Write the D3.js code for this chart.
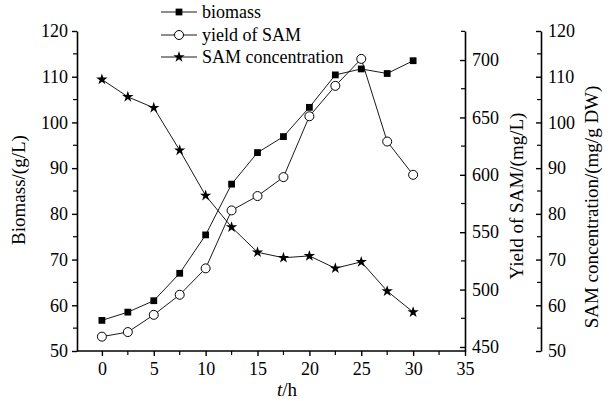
<!DOCTYPE html>
<html>
<head>
<meta charset="utf-8">
<script src="https://cdn.jsdelivr.net/npm/d3@7"></script>
<style>
  body { margin: 0; background: #fff; }
  text { font-family: "Liberation Serif", "Times New Roman", serif; fill: #000; }
</style>
</head>
<body>
<script>
    // Data
    var hours = [0, 2.5, 5, 7.5, 10, 12.5, 15, 17.5, 20, 22.5, 25, 27.5, 30];
    var biomass = [56.7, 58.5, 61.0, 67.0, 75.4, 86.5, 93.4, 96.9, 103.3, 110.4, 111.7, 110.7, 113.5];
    var yieldSAM = [459, 463, 478, 495.5, 518.5, 569, 581.5, 598, 651, 677.5, 701, 629, 600];
    var samConc = [109.4, 105.6, 103.2, 93.9, 84.0, 77.1, 71.6, 70.4, 70.8, 68.1, 69.5, 63.1, 58.5];

    var xTicks = [0, 5, 10, 15, 20, 25, 30, 35];
    var leftTicks = [50, 60, 70, 80, 90, 100, 110, 120];
    var yieldTicks = [450, 500, 550, 600, 650, 700];
    var concTicks = [50, 60, 70, 80, 90, 100, 110, 120];

    var legendNames = ["biomass", "yield of SAM", "SAM concentration"];

    // Width and height
    var w = 610;
    var h = 401;

    var plot = {left: 77, right: 465, top: 31, bottom: 351};
    var axis3 = 541;
    var serif = "'Liberation Serif', 'Times New Roman', serif";

    var svg = d3.select("body")
        .append("svg")
        .attr("width", w)
        .attr("height", h);

    // Scales
    var x = d3.scaleLinear().domain([-2.4, 35]).range([plot.left, plot.right]);
    var yBio = d3.scaleLinear().domain([50, 120]).range([plot.bottom, plot.top]);
    var yYield = d3.scaleLinear().domain([446.5, 725.3]).range([plot.bottom, plot.top]);
    var yConc = d3.scaleLinear().domain([50, 120]).range([plot.bottom, plot.top]);

    function styleAxis(g, fs) {
      g.attr("font-family", serif).attr("font-size", fs);
      g.select(".domain").attr("stroke", "#000").attr("stroke-width", 1.6);
      g.selectAll(".tick line").attr("stroke", "#000").attr("stroke-width", 1.4);
      g.selectAll(".tick text")
        .style("font-family", serif)
        .style("font-size", fs + "px")
        .attr("fill", "#000");
    }

    // Minor ticks helper
    function minor(g, vals, scale, orient, len) {
      g.selectAll(null)
        .data(vals)
        .enter().append("line")
        .attr("stroke", "#000")
        .attr("stroke-width", 1.2)
        .each(function (d) {
          var s = d3.select(this);
          if (orient === "bottom") {
            s.attr("x1", scale(d)).attr("x2", scale(d)).attr("y1", 0).attr("y2", len);
          } else {
            s.attr("y1", scale(d)).attr("y2", scale(d)).attr("x1", 0).attr("x2", -len);
          }
        });
    }

    // Bottom axis
    var gx = svg.append("g")
        .attr("transform", `translate(0, ${plot.bottom})`)
        .call(d3.axisBottom(x).tickValues(xTicks).tickSize(5).tickSizeOuter(0).tickPadding(6));
    styleAxis(gx, 18);
    minor(gx, [2.5, 7.5, 12.5, 17.5, 22.5, 27.5, 32.5], x, "bottom", 4);
    gx.select(".domain").attr("d", `M${plot.left},0H${plot.right}`);

    // Left axis
    var gl = svg.append("g")
        .attr("transform", `translate(${plot.left}, 0)`)
        .call(d3.axisLeft(yBio).tickValues(leftTicks).tickSize(5).tickSizeOuter(0).tickPadding(4));
    styleAxis(gl, 18);
    minor(gl, [55, 65, 75, 85, 95, 105, 115], yBio, "left", 4);

    // Yield axis (ticks point inward, labels outside)
    var gy = svg.append("g")
        .attr("transform", `translate(${plot.right}, 0)`)
        .call(d3.axisRight(yYield).tickValues(yieldTicks).tickSize(-5).tickSizeOuter(0).tickPadding(8));
    styleAxis(gy, 18);
    gy.selectAll(".tick text").attr("x", 7);
    minor(gy, [475, 525, 575, 625, 675, 725], yYield, "left", 4);

    // SAM concentration axis
    var gc = svg.append("g")
        .attr("transform", `translate(${axis3}, 0)`)
        .call(d3.axisRight(yConc).tickValues(concTicks).tickSize(-5).tickSizeOuter(0));
    styleAxis(gc, 18);
    gc.selectAll(".tick text").attr("x", 7);
    minor(gc, [55, 65, 75, 85, 95, 105, 115], yConc, "left", 4);

    // Axis titles
    svg.append("text")
        .attr("transform", "translate(25, 190) rotate(-90)")
        .attr("text-anchor", "middle")
        .style("font-size", "19px")
        .text("Biomass/(g/L)");

    svg.append("text")
        .attr("transform", "translate(523, 196) rotate(-90)")
        .attr("text-anchor", "middle")
        .style("font-size", "19px")
        .text("Yield of SAM/(mg/L)");

    svg.append("text")
        .attr("transform", "translate(598, 207) rotate(-90)")
        .attr("text-anchor", "middle")
        .style("font-size", "19px")
        .text("SAM concentration/(mg/g DW)");

    var xt = svg.append("text")
        .attr("x", 287)
        .attr("y", 396)
        .attr("text-anchor", "middle")
        .style("font-size", "19px");
    xt.append("tspan").style("font-style", "italic").text("t");
    xt.append("tspan").text("/h");

    // Series
    var series = [
      {vals: biomass, y: yBio, mark: "square"},
      {vals: yieldSAM, y: yYield, mark: "circle"},
      {vals: samConc, y: yConc, mark: "star"}
    ];

    var starSym = d3.symbol().type(d3.symbolStar).size(40);
    var sqSym = d3.symbol().type(d3.symbolSquare).size(46);

    function drawMark(g, kind, cx, cy) {
      if (kind === "circle") {
        g.append("circle")
          .attr("cx", cx).attr("cy", cy).attr("r", 4.5)
          .attr("fill", "#fff").attr("stroke", "#000").attr("stroke-width", 1);
      } else {
        g.append("path")
          .attr("transform", `translate(${cx}, ${cy})`)
          .attr("d", kind === "star" ? starSym() : sqSym())
          .attr("fill", "#000");
      }
    }

    series.forEach(function (s) {
      var line = d3.line()
          .x((d, i) => x(hours[i]))
          .y(d => s.y(d));

      svg.append("path")
          .datum(s.vals)
          .attr("d", line)
          .attr("fill", "none")
          .attr("stroke", "#000")
          .attr("stroke-width", 0.9);

      var gm = svg.append("g");
      s.vals.forEach(function (v, i) {
        drawMark(gm, s.mark, x(hours[i]), s.y(v));
      });
    });

    // Legend
    var legY = [12, 35, 57];
    var leg = svg.append("g");
    legendNames.forEach(function (name, i) {
      leg.append("line")
        .attr("x1", 161).attr("x2", 197)
        .attr("y1", legY[i]).attr("y2", legY[i])
        .attr("stroke", "#000").attr("stroke-width", 0.9);
      drawMark(leg, series[i].mark, 179, legY[i]);
      leg.append("text")
        .attr("x", 202)
        .attr("y", legY[i])
        .attr("dy", "0.35em")
        .style("font-size", "18px")
        .text(name);
    });
</script>
</body>
</html>
